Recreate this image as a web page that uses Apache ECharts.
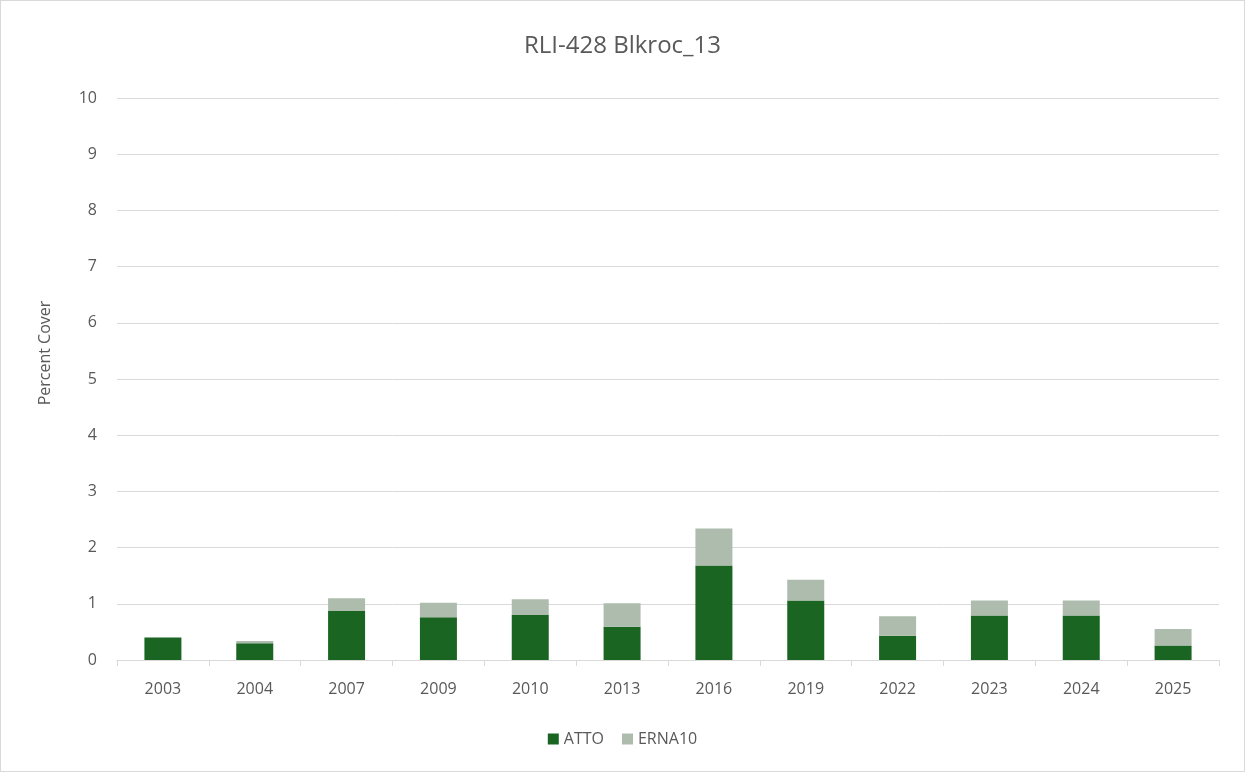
<!DOCTYPE html>
<html><head><meta charset="utf-8">
<script src="https://cdn.jsdelivr.net/npm/echarts@6/dist/echarts.min.js"></script>
<style>html,body{margin:0;padding:0;background:#fff}#c{width:1245px;height:772px;box-sizing:border-box;border:1px solid #d9d9d9}</style>
</head><body><div id="c"></div>
<script>
const categories = ['2003','2004','2007','2009','2010','2013','2016','2019','2022','2023','2024','2025'];
const atto = [0.40,0.30,0.87,0.76,0.80,0.59,1.68,1.06,0.43,0.79,0.79,0.26];
const erna10 = [0,0.04,0.23,0.26,0.28,0.42,0.66,0.37,0.35,0.27,0.27,0.29];
const chart = echarts.init(document.getElementById('c'));
const txt = '#595959';
chart.setOption({
  animation:false,
  title:{text:'RLI-428 Blkroc_13',left:'center',top:28,textStyle:{fontFamily:'Open Sans',fontSize:24,fontWeight:'normal',color:txt}},
  grid:{left:116,right:25,top:97,bottom:111},
  legend:{bottom:19,left:'center',itemWidth:11,itemHeight:11,itemGap:18,icon:'rect',textStyle:{fontFamily:'Open Sans',fontSize:16,color:txt},data:['ATTO','ERNA10']},
  graphic:[{type:'text',x:44,y:352,rotation:Math.PI/2,style:{text:'Percent Cover',fontFamily:'Open Sans',fontSize:16,fill:txt,align:'center',verticalAlign:'middle'}}],
  xAxis:{type:'category',data:categories,axisTick:{show:true,length:6,lineStyle:{color:'#d9d9d9'}},axisLine:{lineStyle:{color:'#d9d9d9',width:1}},axisLabel:{fontFamily:'Open Sans',fontSize:16,color:txt,margin:21}},
  yAxis:{type:'value',min:0,max:10,interval:1,axisLabel:{fontFamily:'Open Sans',fontSize:16,color:txt,margin:20},splitLine:{lineStyle:{color:'#d9d9d9',width:1}},axisLine:{show:false},axisTick:{show:false}},
  series:[
    {name:'ATTO',type:'bar',stack:'a',data:atto,barWidth:37,itemStyle:{color:'#1a6522'}},
    {name:'ERNA10',type:'bar',stack:'a',data:erna10,barWidth:37,itemStyle:{color:'#aebcae'}}
  ]
});
</script></body></html>
